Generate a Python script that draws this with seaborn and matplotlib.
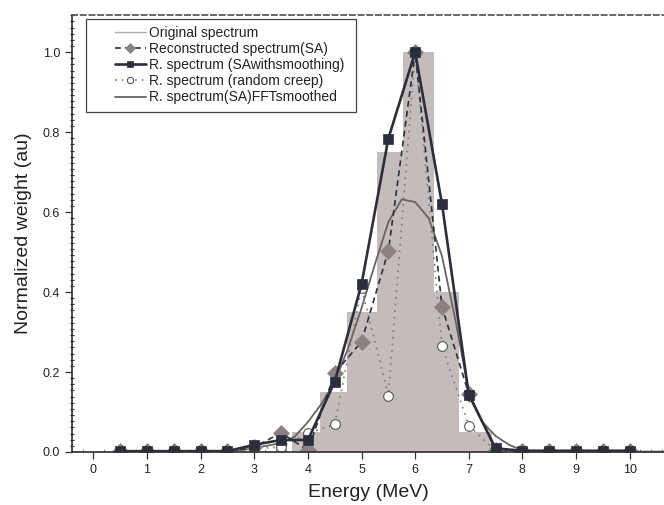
import matplotlib
matplotlib.use("Agg")
import matplotlib.pyplot as plt
import matplotlib.patches as mpatches
from matplotlib.lines import Line2D
from matplotlib.ticker import MultipleLocator, AutoMinorLocator
import seaborn as sns

# original spectrum (histogram bins)
orig_edges = [3.70, 4.22, 4.72, 5.28, 5.77, 6.36, 6.82, 7.44]
orig_heights = [0.05, 0.15, 0.35, 0.75, 1.0, 0.40, 0.05]

energy = [0.5, 1.0, 1.5, 2.0, 2.5, 3.0, 3.5, 4.0, 4.5, 5.0,
          5.5, 6.0, 6.5, 7.0, 7.5, 8.0, 8.5, 9.0, 9.5, 10.0]
sa = [0.002, 0.002, 0.002, 0.002, 0.002, 0.012, 0.048, 0.004, 0.197, 0.276,
      0.503, 1.0, 0.363, 0.145, 0.006, 0.002, 0.002, 0.002, 0.002, 0.002]
sa_smooth = [0.002, 0.002, 0.002, 0.002, 0.002, 0.018, 0.030, 0.030, 0.176, 0.420,
             0.784, 1.0, 0.620, 0.143, 0.009, 0.003, 0.003, 0.003, 0.003, 0.003]
creep = [0.0, 0.0, 0.0, 0.0, 0.0, 0.009, 0.012, 0.047, 0.069, 0.410,
         0.141, 1.0, 0.265, 0.066, 0.003, 0.0, 0.0, 0.0, 0.0, 0.0]

fft_energy = [0.5, 1.0, 1.5, 2.0, 2.5, 2.75, 3.0, 3.25, 3.5, 3.75, 4.0, 4.25,
              4.5, 4.75, 5.0, 5.25, 5.5, 5.75, 6.0, 6.25, 6.5, 6.75, 7.0,
              7.25, 7.5, 7.75, 8.0, 8.5, 9.0, 9.5, 10.0, 10.7]
fft = [0.001, 0.001, 0.001, 0.001, 0.001, 0.004, 0.010, 0.016, 0.022, 0.038,
       0.075, 0.120, 0.175, 0.260, 0.360, 0.470, 0.575, 0.632, 0.625, 0.585,
       0.490, 0.330, 0.150, 0.075, 0.040, 0.018, 0.004, 0.001, 0.001, 0.001,
       0.001, 0.001]

labels = ["Original spectrum", "Reconstructed spectrum(SA)",
          "R. spectrum (SAwithsmoothing)", "R. spectrum (random creep)",
          "R. spectrum(SA)FFTsmoothed"]

c_fill = "#c4bcba"
c_dark = "#2b2e3d"
c_taupe = "#8d8080"
c_fft = "#6b6262"
c_dot = "#7a7a7a"

sns.set_theme(style="ticks")
plt.rcParams["font.family"] = ["Liberation Sans", "DejaVu Sans"]

fig = plt.figure(figsize=(6.64, 5.05), dpi=100)
ax = fig.add_axes([0.1084, 0.105, 0.8916, 0.865])

centers = [(a + b) / 2 for a, b in zip(orig_edges[:-1], orig_edges[1:])]
sns.histplot(x=centers, weights=orig_heights, bins=orig_edges, element="bars",
             color=c_fill, alpha=1, edgecolor=c_fill, linewidth=0, ax=ax)

sns.lineplot(x=fft_energy, y=fft, color=c_fft, linewidth=1.3, ax=ax, label=labels[4])
sns.lineplot(x=energy, y=creep, color=c_dot, linestyle=(0, (1, 3)), linewidth=1.2,
             marker="o", markersize=7, markerfacecolor="white",
             markeredgecolor="#555555", markeredgewidth=0.8, ax=ax, label=labels[3])
sns.lineplot(x=energy, y=sa, color=c_dark, linestyle=(0, (3.5, 2.5)), linewidth=1.2,
             marker="D", markersize=8, markerfacecolor=c_taupe,
             markeredgecolor=c_taupe, markeredgewidth=0.5, ax=ax, label=labels[1])
sns.lineplot(x=energy, y=sa_smooth, color=c_dark, linewidth=1.9,
             marker="s", markersize=7.5, markerfacecolor=c_dark,
             markeredgecolor=c_dark, markeredgewidth=0.5, ax=ax, label=labels[2])

ax.set_xlim(-0.4, 10.64)
ax.set_ylim(0, 1.0925)
ax.xaxis.set_major_locator(MultipleLocator(1))
ax.xaxis.set_minor_locator(MultipleLocator(0.2))
ax.yaxis.set_major_locator(MultipleLocator(0.2))
ax.yaxis.set_minor_locator(AutoMinorLocator(13))
ax.tick_params(axis="both", which="major", direction="out", length=5, width=0.9,
               color="#333333", labelsize=9, labelcolor="#222222")
ax.tick_params(axis="x", which="minor", direction="in", length=2, width=0.6, color="#777777")
ax.tick_params(axis="y", which="minor", direction="inout", length=3, width=0.8, color="#333333")

ax.spines["right"].set_visible(False)
ax.spines["top"].set_linestyle((0, (3, 2)))
ax.spines["top"].set_color("#555555")
ax.spines["left"].set_color("#333333")
ax.spines["bottom"].set_color("#333333")

ax.set_xlabel("Energy (MeV)", fontsize=14, color="#222222", labelpad=6)
ax.set_ylabel("Normalized weight (au)", fontsize=14, color="#222222", labelpad=8)

handles, labs = ax.get_legend_handles_labels()
hmap = dict(zip(labs, handles))
orig_handle = Line2D([], [], color="#b5adad", linewidth=1.0)
order = [orig_handle] + [hmap[l] for l in labels[1:]]
ax.legend(order, labels, loc="upper left", bbox_to_anchor=(0.0726, 0.975),
          frameon=False, fontsize=10, handlelength=2.2, handletextpad=0.25,
          labelspacing=0.15, borderpad=0, borderaxespad=0, numpoints=1,
          markerscale=0.65, labelcolor="#222222")
ax.add_patch(mpatches.Rectangle((0.02365, 0.778), 0.456, 0.2128, transform=ax.transAxes,
                                fill=False, edgecolor="#444444", linewidth=0.9,
                                clip_on=False, zorder=5))

fig.savefig("out.png", dpi=100)
